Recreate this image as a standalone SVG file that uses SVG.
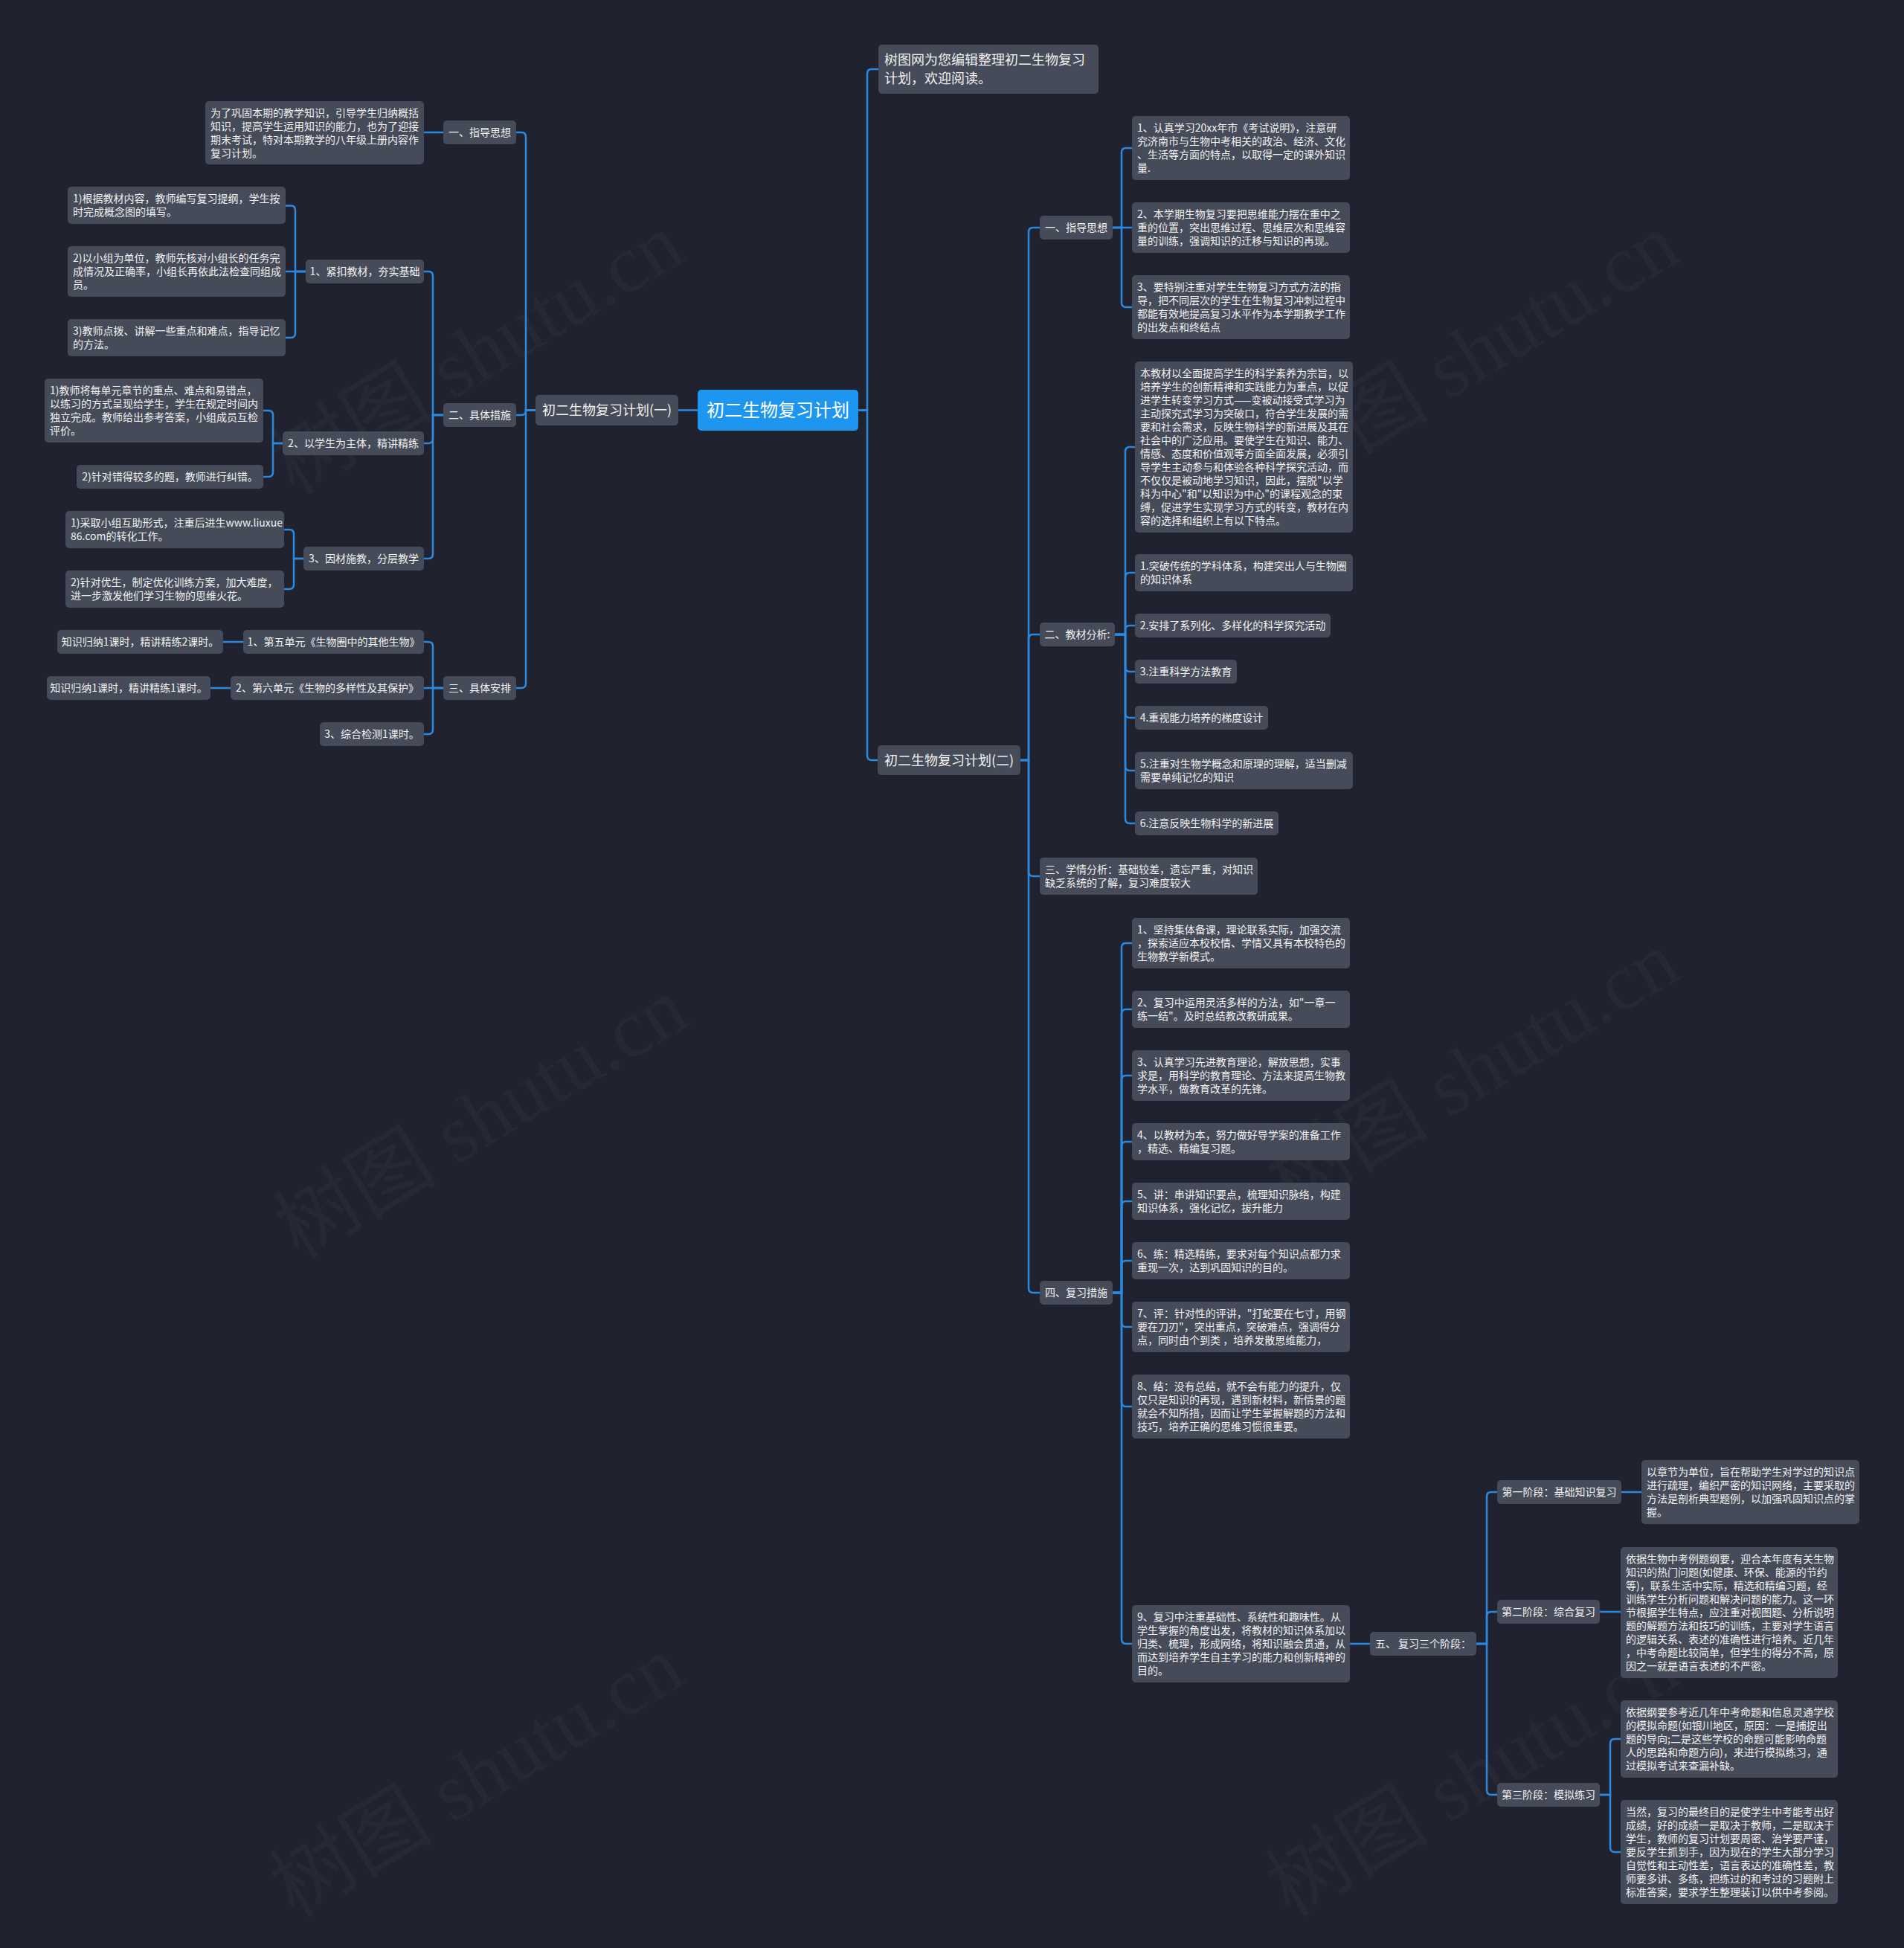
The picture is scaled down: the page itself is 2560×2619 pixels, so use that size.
<svg xmlns="http://www.w3.org/2000/svg" width="2560" height="2619" viewBox="0 0 2560 2619">
<style>
.bg{fill:#20232f}
.node{fill:#464b59}
.root{fill:#1e96f0}
.t{font-family:"Noto Sans CJK SC","Noto Sans",sans-serif;font-size:14px;fill:#f2f2f2}
.tc{font-family:"Noto Sans CJK SC","Noto Sans",sans-serif;font-size:14px;fill:#f2f2f2;text-anchor:middle}
.t18{font-family:"Noto Sans CJK SC","Noto Sans",sans-serif;font-size:18px;fill:#f2f2f2}
.t18c{font-family:"Noto Sans CJK SC","Noto Sans",sans-serif;font-size:18px;fill:#f2f2f2;text-anchor:middle}
.troot{font-family:"Noto Sans CJK SC","Noto Sans",sans-serif;font-size:24px;fill:#ffffff;text-anchor:middle}
.wm{font-family:"Liberation Serif","Noto Sans CJK SC",serif;font-size:110px;fill:#ffffff;fill-opacity:0.028;text-anchor:middle}
#connectors path{fill:none;stroke:#2b8ae0;stroke-width:2.5}
</style>
<rect class="bg" x="0" y="0" width="2560" height="2619"/>
<g id="watermarks">
<text class="wm" transform="translate(660,507) rotate(-31)">树图 shutu.cn</text>
<text class="wm" transform="translate(666,1535) rotate(-31)">树图 shutu.cn</text>
<text class="wm" transform="translate(660,2420) rotate(-31)">树图 shutu.cn</text>
<text class="wm" transform="translate(1999,507) rotate(-31)">树图 shutu.cn</text>
<text class="wm" transform="translate(1999,1472) rotate(-31)">树图 shutu.cn</text>
<text class="wm" transform="translate(1999,2420) rotate(-31)">树图 shutu.cn</text>
</g>
<g id="connectors">
<path d="M938,551.5H912"/>
<path d="M720,551.5H707V184Q707,178 701,178H694"/>
<path d="M720,551.5H707V552Q707,558 701,558H694"/>
<path d="M720,551.5H707V919Q707,925 701,925H694"/>
<path d="M596,178H570"/>
<path d="M596,558H582V371Q582,365 576,365H570"/>
<path d="M596,558H582V590Q582,596 576,596H570"/>
<path d="M596,558H582V745Q582,751 576,751H570"/>
<path d="M411,365H397V282.5Q397,276.5 391,276.5H384"/>
<path d="M411,365H384"/>
<path d="M411,365H397V448Q397,454 391,454H384"/>
<path d="M380,596H367V558Q367,552 361,552H354"/>
<path d="M380,596H367V635Q367,641 361,641H354"/>
<path d="M408,751H395V718Q395,712 389,712H382"/>
<path d="M408,751H395V786Q395,792 389,792H382"/>
<path d="M596,925H582V869Q582,863 576,863H570"/>
<path d="M596,925H570"/>
<path d="M596,925H582V981Q582,987 576,987H570"/>
<path d="M327,863H300"/>
<path d="M310,925H283"/>
<path d="M1154,551.5H1166V99Q1166,93 1172,93H1181"/>
<path d="M1154,551.5H1166V1016Q1166,1022 1172,1022H1180"/>
<path d="M1372,1022H1383V312Q1383,306 1389,306H1398"/>
<path d="M1372,1022H1383V859Q1383,853 1389,853H1398"/>
<path d="M1372,1022H1383V1172Q1383,1178 1389,1178H1398"/>
<path d="M1372,1022H1383V1732Q1383,1738 1389,1738H1398"/>
<path d="M1496,306H1508V205Q1508,199 1514,199H1522"/>
<path d="M1496,306H1522"/>
<path d="M1496,306H1508V407Q1508,413 1514,413H1522"/>
<path d="M1499,853H1513V607Q1513,601 1519,601H1526"/>
<path d="M1499,853H1513V776Q1513,770 1519,770H1526"/>
<path d="M1499,853H1513V847Q1513,841 1519,841H1526"/>
<path d="M1499,853H1513V897Q1513,903 1519,903H1526"/>
<path d="M1499,853H1513V959Q1513,965 1519,965H1526"/>
<path d="M1499,853H1513V1030Q1513,1036 1519,1036H1526"/>
<path d="M1499,853H1513V1101Q1513,1107 1519,1107H1526"/>
<path d="M1496,1738H1508V1274Q1508,1268 1514,1268H1522"/>
<path d="M1496,1738H1508V1363Q1508,1357 1514,1357H1522"/>
<path d="M1496,1738H1508V1452Q1508,1446 1514,1446H1522"/>
<path d="M1496,1738H1508V1541Q1508,1535 1514,1535H1522"/>
<path d="M1496,1738H1508V1621Q1508,1615 1514,1615H1522"/>
<path d="M1496,1738H1508V1701Q1508,1695 1514,1695H1522"/>
<path d="M1496,1738H1508V1778Q1508,1784 1514,1784H1522"/>
<path d="M1496,1738H1508V1885Q1508,1891 1514,1891H1522"/>
<path d="M1496,1738H1508V2204Q1508,2210 1514,2210H1522"/>
<path d="M1815,2210H1842"/>
<path d="M1985,2210H1999V2012Q1999,2006 2005,2006H2013"/>
<path d="M1985,2210H1999V2173Q1999,2167 2005,2167H2013"/>
<path d="M1985,2210H1999V2407Q1999,2413 2005,2413H2013"/>
<path d="M2180,2006H2207"/>
<path d="M2151,2167H2179"/>
<path d="M2151,2413H2165V2344Q2165,2338 2171,2338H2179"/>
<path d="M2151,2413H2165V2484Q2165,2490 2171,2490H2179"/>
</g>
<g id="root"><rect class="root" x="938" y="524" width="216" height="55" rx="5"/><text class="troot" x="1046" y="560">初二生物复习计划</text></g>
<g id="plan1"><rect class="node" x="720" y="531" width="192" height="41" rx="5"/><text class="t18c" x="816" y="558">初二生物复习计划(一)</text></g>
<g id="l-zhidao"><rect class="node" x="596" y="162" width="98" height="32" rx="5"/><text class="tc" x="645" y="183">一、指导思想</text></g>
<g id="l-zhidao-1"><rect class="node" x="276" y="136" width="294" height="85" rx="5"/><text class="t"><tspan x="283" y="157">为了巩固本期的教学知识，引导学生归纳概括</tspan><tspan x="283" y="175">知识，提高学生运用知识的能力，也为了迎接</tspan><tspan x="283" y="193">期末考试，特对本期教学的八年级上册内容作</tspan><tspan x="283" y="211">复习计划。</tspan></text></g>
<g id="l-cuoshi"><rect class="node" x="596" y="542" width="98" height="32" rx="5"/><text class="tc" x="645" y="563">二、具体措施</text></g>
<g id="l-jinkou"><rect class="node" x="411" y="349" width="159" height="32" rx="5"/><text class="tc" x="490.5" y="370">1、紧扣教材，夯实基础</text></g>
<g id="l-jinkou-1"><rect class="node" x="91" y="251" width="293" height="50" rx="5"/><text class="t"><tspan x="98" y="272">1)根据教材内容，教师编写复习提纲，学生按</tspan><tspan x="98" y="290">时完成概念图的填写。</tspan></text></g>
<g id="l-jinkou-2"><rect class="node" x="91" y="331" width="293" height="68" rx="5"/><text class="t"><tspan x="98" y="352">2)以小组为单位，教师先核对小组长的任务完</tspan><tspan x="98" y="370">成情况及正确率，小组长再依此法检查同组成</tspan><tspan x="98" y="388">员。</tspan></text></g>
<g id="l-jinkou-3"><rect class="node" x="91" y="429" width="293" height="50" rx="5"/><text class="t"><tspan x="98" y="450">3)教师点拨、讲解一些重点和难点，指导记忆</tspan><tspan x="98" y="468">的方法。</tspan></text></g>
<g id="l-zhuti"><rect class="node" x="380" y="580" width="190" height="32" rx="5"/><text class="tc" x="475" y="601">2、以学生为主体，精讲精练</text></g>
<g id="l-zhuti-1"><rect class="node" x="60" y="509" width="294" height="86" rx="5"/><text class="t"><tspan x="67" y="530">1)教师将每单元章节的重点、难点和易错点，</tspan><tspan x="67" y="548">以练习的方式呈现给学生，学生在规定时间内</tspan><tspan x="67" y="566">独立完成。教师给出参考答案，小组成员互检</tspan><tspan x="67" y="584">评价。</tspan></text></g>
<g id="l-zhuti-2"><rect class="node" x="103" y="625" width="251" height="32" rx="5"/><text class="tc" x="228.5" y="646">2)针对错得较多的题，教师进行纠错。</text></g>
<g id="l-yincai"><rect class="node" x="408" y="735" width="162" height="32" rx="5"/><text class="tc" x="489" y="756">3、因材施教，分层教学</text></g>
<g id="l-yincai-1"><rect class="node" x="88" y="687" width="294" height="50" rx="5"/><text class="t"><tspan x="95" y="708">1)采取小组互助形式，注重后进生www.liuxue</tspan><tspan x="95" y="726">86.com的转化工作。</tspan></text></g>
<g id="l-yincai-2"><rect class="node" x="88" y="767" width="294" height="50" rx="5"/><text class="t"><tspan x="95" y="788">2)针对优生，制定优化训练方案，加大难度，</tspan><tspan x="95" y="806">进一步激发他们学习生物的思维火花。</tspan></text></g>
<g id="l-anpai"><rect class="node" x="596" y="909" width="98" height="32" rx="5"/><text class="tc" x="645" y="930">三、具体安排</text></g>
<g id="l-anpai-1"><rect class="node" x="327" y="847" width="243" height="32" rx="5"/><text class="tc" x="448.5" y="868">1、第五单元《生物圈中的其他生物》</text></g>
<g id="l-anpai-1a"><rect class="node" x="77" y="847" width="223" height="32" rx="5"/><text class="tc" x="188.5" y="868">知识归纳1课时，精讲精练2课时。</text></g>
<g id="l-anpai-2"><rect class="node" x="310" y="909" width="260" height="32" rx="5"/><text class="tc" x="440" y="930">2、第六单元《生物的多样性及其保护》</text></g>
<g id="l-anpai-2a"><rect class="node" x="63" y="909" width="220" height="32" rx="5"/><text class="tc" x="173" y="930">知识归纳1课时，精讲精练1课时。</text></g>
<g id="l-anpai-3"><rect class="node" x="430" y="971" width="140" height="32" rx="5"/><text class="tc" x="500" y="992">3、综合检测1课时。</text></g>
<g id="intro"><rect class="node" x="1181" y="60" width="296" height="66" rx="5"/><text class="t18"><tspan x="1189" y="87">树图网为您编辑整理初二生物复习</tspan><tspan x="1189" y="112">计划，欢迎阅读。</tspan></text></g>
<g id="plan2"><rect class="node" x="1180" y="1002" width="192" height="40" rx="5"/><text class="t18c" x="1276" y="1028.5">初二生物复习计划(二)</text></g>
<g id="r-zhidao"><rect class="node" x="1398" y="290" width="98" height="32" rx="5"/><text class="tc" x="1447" y="311">一、指导思想</text></g>
<g id="r-zhidao-1"><rect class="node" x="1522" y="156" width="293" height="86" rx="5"/><text class="t"><tspan x="1529" y="177">1、认真学习20xx年市《考试说明》，注意研</tspan><tspan x="1529" y="195">究济南市与生物中考相关的政治、经济、文化</tspan><tspan x="1529" y="213">、生活等方面的特点，以取得一定的课外知识</tspan><tspan x="1529" y="231">量.</tspan></text></g>
<g id="r-zhidao-2"><rect class="node" x="1522" y="272" width="293" height="68" rx="5"/><text class="t"><tspan x="1529" y="293">2、本学期生物复习要把思维能力摆在重中之</tspan><tspan x="1529" y="311">重的位置，突出思维过程、思维层次和思维容</tspan><tspan x="1529" y="329">量的训练，强调知识的迁移与知识的再现。</tspan></text></g>
<g id="r-zhidao-3"><rect class="node" x="1522" y="370" width="293" height="86" rx="5"/><text class="t"><tspan x="1529" y="391">3、要特别注重对学生生物复习方式方法的指</tspan><tspan x="1529" y="409">导，把不同层次的学生在生物复习冲刺过程中</tspan><tspan x="1529" y="427">都能有效地提高复习水平作为本学期教学工作</tspan><tspan x="1529" y="445">的出发点和终结点</tspan></text></g>
<g id="r-jiaocai"><rect class="node" x="1398" y="837" width="101" height="32" rx="5"/><text class="tc" x="1448.5" y="858">二、教材分析:</text></g>
<g id="r-jiaocai-0"><rect class="node" x="1526" y="486" width="293" height="230" rx="5"/><text class="t"><tspan x="1533" y="507">本教材以全面提高学生的科学素养为宗旨，以</tspan><tspan x="1533" y="525">培养学生的创新精神和实践能力为重点，以促</tspan><tspan x="1533" y="543">进学生转变学习方式——变被动接受式学习为</tspan><tspan x="1533" y="561">主动探究式学习为突破口，符合学生发展的需</tspan><tspan x="1533" y="579">要和社会需求，反映生物科学的新进展及其在</tspan><tspan x="1533" y="597">社会中的广泛应用。要使学生在知识、能力、</tspan><tspan x="1533" y="615">情感、态度和价值观等方面全面发展，必须引</tspan><tspan x="1533" y="633">导学生主动参与和体验各种科学探究活动，而</tspan><tspan x="1533" y="651">不仅仅是被动地学习知识，因此，摆脱"以学</tspan><tspan x="1533" y="669">科为中心"和"以知识为中心"的课程观念的束</tspan><tspan x="1533" y="687">缚，促进学生实现学习方式的转变，教材在内</tspan><tspan x="1533" y="705">容的选择和组织上有以下特点。</tspan></text></g>
<g id="r-jiaocai-1"><rect class="node" x="1526" y="745" width="293" height="50" rx="5"/><text class="t"><tspan x="1533" y="766">1.突破传统的学科体系，构建突出人与生物圈</tspan><tspan x="1533" y="784">的知识体系</tspan></text></g>
<g id="r-jiaocai-2"><rect class="node" x="1526" y="825" width="263" height="32" rx="5"/><text class="tc" x="1657.5" y="846">2.安排了系列化、多样化的科学探究活动</text></g>
<g id="r-jiaocai-3"><rect class="node" x="1526" y="887" width="137" height="32" rx="5"/><text class="tc" x="1594.5" y="908">3.注重科学方法教育</text></g>
<g id="r-jiaocai-4"><rect class="node" x="1526" y="949" width="179" height="32" rx="5"/><text class="tc" x="1615.5" y="970">4.重视能力培养的梯度设计</text></g>
<g id="r-jiaocai-5"><rect class="node" x="1526" y="1011" width="293" height="50" rx="5"/><text class="t"><tspan x="1533" y="1032">5.注重对生物学概念和原理的理解，适当删减</tspan><tspan x="1533" y="1050">需要单纯记忆的知识</tspan></text></g>
<g id="r-jiaocai-6"><rect class="node" x="1526" y="1091" width="193" height="32" rx="5"/><text class="tc" x="1622.5" y="1112">6.注意反映生物科学的新进展</text></g>
<g id="r-xueqing"><rect class="node" x="1398" y="1153" width="293" height="50" rx="5"/><text class="t"><tspan x="1405" y="1174">三、学情分析：基础较差，遗忘严重，对知识</tspan><tspan x="1405" y="1192">缺乏系统的了解，复习难度较大</tspan></text></g>
<g id="r-cuoshi"><rect class="node" x="1398" y="1722" width="98" height="32" rx="5"/><text class="tc" x="1447" y="1743">四、复习措施</text></g>
<g id="r-cuoshi-1"><rect class="node" x="1522" y="1234" width="293" height="68" rx="5"/><text class="t"><tspan x="1529" y="1255">1、坚持集体备课，理论联系实际，加强交流</tspan><tspan x="1529" y="1273">，探索适应本校校情、学情又具有本校特色的</tspan><tspan x="1529" y="1291">生物教学新模式。</tspan></text></g>
<g id="r-cuoshi-2"><rect class="node" x="1522" y="1332" width="293" height="50" rx="5"/><text class="t"><tspan x="1529" y="1353">2、复习中运用灵活多样的方法，如"一章一</tspan><tspan x="1529" y="1371">练一结"。及时总结教改教研成果。</tspan></text></g>
<g id="r-cuoshi-3"><rect class="node" x="1522" y="1412" width="293" height="68" rx="5"/><text class="t"><tspan x="1529" y="1433">3、认真学习先进教育理论，解放思想，实事</tspan><tspan x="1529" y="1451">求是，用科学的教育理论、方法来提高生物教</tspan><tspan x="1529" y="1469">学水平，做教育改革的先锋。</tspan></text></g>
<g id="r-cuoshi-4"><rect class="node" x="1522" y="1510" width="293" height="50" rx="5"/><text class="t"><tspan x="1529" y="1531">4、以教材为本，努力做好导学案的准备工作</tspan><tspan x="1529" y="1549">，精选、精编复习题。</tspan></text></g>
<g id="r-cuoshi-5"><rect class="node" x="1522" y="1590" width="293" height="50" rx="5"/><text class="t"><tspan x="1529" y="1611">5、讲：串讲知识要点，梳理知识脉络，构建</tspan><tspan x="1529" y="1629">知识体系，强化记忆，拔升能力</tspan></text></g>
<g id="r-cuoshi-6"><rect class="node" x="1522" y="1670" width="293" height="50" rx="5"/><text class="t"><tspan x="1529" y="1691">6、练：精选精练，要求对每个知识点都力求</tspan><tspan x="1529" y="1709">重现一次，达到巩固知识的目的。</tspan></text></g>
<g id="r-cuoshi-7"><rect class="node" x="1522" y="1750" width="293" height="68" rx="5"/><text class="t"><tspan x="1529" y="1771">7、评：针对性的评讲，"打蛇要在七寸，用钢</tspan><tspan x="1529" y="1789">要在刀刃"，突出重点，突破难点，强调得分</tspan><tspan x="1529" y="1807">点，同时由个到类 ，培养发散思维能力，</tspan></text></g>
<g id="r-cuoshi-8"><rect class="node" x="1522" y="1848" width="293" height="86" rx="5"/><text class="t"><tspan x="1529" y="1869">8、结：没有总结，就不会有能力的提升，仅</tspan><tspan x="1529" y="1887">仅只是知识的再现，遇到新材料，新情景的题</tspan><tspan x="1529" y="1905">就会不知所措，因而让学生掌握解题的方法和</tspan><tspan x="1529" y="1923">技巧，培养正确的思维习惯很重要。</tspan></text></g>
<g id="r-cuoshi-9"><rect class="node" x="1522" y="2158" width="293" height="104" rx="5"/><text class="t"><tspan x="1529" y="2179">9、复习中注重基础性、系统性和趣味性。从</tspan><tspan x="1529" y="2197">学生掌握的角度出发，将教材的知识体系加以</tspan><tspan x="1529" y="2215">归类、梳理，形成网络，将知识融会贯通，从</tspan><tspan x="1529" y="2233">而达到培养学生自主学习的能力和创新精神的</tspan><tspan x="1529" y="2251">目的。</tspan></text></g>
<g id="r-jieduan"><rect class="node" x="1842" y="2194" width="143" height="32" rx="5"/><text class="tc" x="1913.5" y="2215">五、 复习三个阶段：</text></g>
<g id="r-jieduan-1"><rect class="node" x="2013" y="1990" width="167" height="32" rx="5"/><text class="tc" x="2096.5" y="2011">第一阶段：基础知识复习</text></g>
<g id="r-jieduan-1a"><rect class="node" x="2207" y="1963" width="293" height="86" rx="5"/><text class="t"><tspan x="2214" y="1984">以章节为单位，旨在帮助学生对学过的知识点</tspan><tspan x="2214" y="2002">进行疏理，编织严密的知识网络，主要采取的</tspan><tspan x="2214" y="2020">方法是剖析典型题例，以加强巩固知识点的掌</tspan><tspan x="2214" y="2038">握。</tspan></text></g>
<g id="r-jieduan-2"><rect class="node" x="2013" y="2151" width="138" height="32" rx="5"/><text class="tc" x="2082" y="2172">第二阶段：综合复习</text></g>
<g id="r-jieduan-2a"><rect class="node" x="2179" y="2080" width="292" height="176" rx="5"/><text class="t"><tspan x="2186" y="2101">依据生物中考例题纲要，迎合本年度有关生物</tspan><tspan x="2186" y="2119">知识的热门问题(如健康、环保、能源的节约</tspan><tspan x="2186" y="2137">等)，联系生活中实际，精选和精编习题，经</tspan><tspan x="2186" y="2155">训练学生分析问题和解决问题的能力。这一环</tspan><tspan x="2186" y="2173">节根据学生特点，应注重对视图题、分析说明</tspan><tspan x="2186" y="2191">题的解题方法和技巧的训练，主要对学生语言</tspan><tspan x="2186" y="2209">的逻辑关系、表述的准确性进行培养。近几年</tspan><tspan x="2186" y="2227">，中考命题比较简单，但学生的得分不高，原</tspan><tspan x="2186" y="2245">因之一就是语言表述的不严密。</tspan></text></g>
<g id="r-jieduan-3"><rect class="node" x="2013" y="2397" width="138" height="32" rx="5"/><text class="tc" x="2082" y="2418">第三阶段：模拟练习</text></g>
<g id="r-jieduan-3a"><rect class="node" x="2179" y="2286" width="292" height="104" rx="5"/><text class="t"><tspan x="2186" y="2307">依据纲要参考近几年中考命题和信息灵通学校</tspan><tspan x="2186" y="2325">的模拟命题(如银川地区，原因：一是捕捉出</tspan><tspan x="2186" y="2343">题的导向;二是这些学校的命题可能影响命题</tspan><tspan x="2186" y="2361">人的思路和命题方向)，来进行模拟练习，通</tspan><tspan x="2186" y="2379">过模拟考试来查漏补缺。</tspan></text></g>
<g id="r-jieduan-3b"><rect class="node" x="2179" y="2420" width="292" height="140" rx="5"/><text class="t"><tspan x="2186" y="2441">当然，复习的最终目的是使学生中考能考出好</tspan><tspan x="2186" y="2459">成绩，好的成绩一是取决于教师，二是取决于</tspan><tspan x="2186" y="2477">学生，教师的复习计划要周密、治学要严谨，</tspan><tspan x="2186" y="2495">要反学生抓到手，因为现在的学生大部分学习</tspan><tspan x="2186" y="2513">自觉性和主动性差，语言表达的准确性差，教</tspan><tspan x="2186" y="2531">师要多讲、多练，把练过的和考过的习题附上</tspan><tspan x="2186" y="2549">标准答案，要求学生整理装订以供中考参阅。</tspan></text></g>
</svg>
